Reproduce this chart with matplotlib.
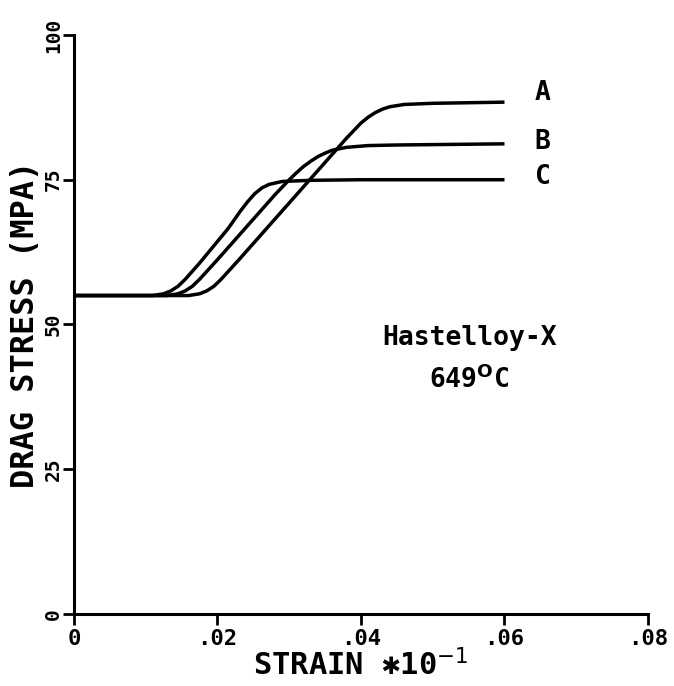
import numpy as np
import matplotlib.pyplot as plt

# curve data (strain x10^-1, drag stress MPa)
strain_a = [0.0, 0.016, 0.0175, 0.0185, 0.0195, 0.0205, 0.023, 0.026, 0.029, 0.032, 0.034,
            0.036, 0.038, 0.040, 0.041, 0.042, 0.043, 0.044, 0.046, 0.050, 0.060]
stress_a = [55.0, 55.0, 55.3, 55.8, 56.6, 57.8, 61.2, 65.4, 69.6, 73.8, 76.6,
            79.4, 82.2, 84.8, 85.8, 86.6, 87.2, 87.6, 88.0, 88.2, 88.4]

strain_b = [0.0, 0.013, 0.0145, 0.0155, 0.0165, 0.0175, 0.020, 0.023, 0.026, 0.028, 0.030,
            0.031, 0.032, 0.033, 0.034, 0.035, 0.036, 0.038, 0.041, 0.045, 0.060]
stress_b = [55.0, 55.0, 55.3, 55.8, 56.6, 57.8, 61.2, 65.4, 69.6, 72.4, 75.0,
            76.2, 77.3, 78.2, 79.0, 79.6, 80.1, 80.6, 80.9, 81.0, 81.2]

strain_c = [0.0, 0.011, 0.0125, 0.0135, 0.0145, 0.0155, 0.0175, 0.0195, 0.0215, 0.0232,
            0.0242, 0.0252, 0.0262, 0.0272, 0.029, 0.033, 0.040, 0.060]
stress_c = [55.0, 55.0, 55.3, 55.8, 56.6, 57.8, 60.6, 63.6, 66.6, 69.6,
            71.2, 72.6, 73.6, 74.2, 74.7, 74.9, 75.0, 75.0]

curve_names = ["A", "B", "C"]
name_y = [90.0, 81.5, 75.5]

xticks = [0, 0.02, 0.04, 0.06, 0.08]
xlabels = ["0", ".02", ".04", ".06", ".08"]
yticks = [0, 25, 50, 75, 100]
ylabels = ["0", "25", "50", "75", "100"]

mono = ["DejaVu Sans Mono", "DejaVu Sans"]

fig = plt.figure(figsize=(6.74, 6.86), dpi=100)
ax = fig.add_axes([0.1098, 0.105, 0.8516, 0.844])

for xs, ys in [(strain_a, stress_a), (strain_b, stress_b), (strain_c, stress_c)]:
    ax.plot(xs, ys, color="black", lw=2.5, solid_capstyle="butt",
            solid_joinstyle="round", clip_on=False)

# labels at the right end of each curve
for xs, ny, name in zip([strain_a, strain_b, strain_c], name_y, curve_names):
    ax.text(xs[-1] + 0.0042, ny, name, fontsize=19, fontweight="bold",
            family=mono, ha="left", va="center")

ax.set_xlim(0, 0.08)
ax.set_ylim(0, 100)
ax.spines["top"].set_visible(False)
ax.spines["right"].set_visible(False)
ax.spines["left"].set_linewidth(2.2)
ax.spines["bottom"].set_linewidth(2.2)

ax.set_xticks(xticks)
ax.set_xticklabels(xlabels, fontsize=16, fontweight="bold", family=mono)
ax.set_yticks(yticks)
ax.set_yticklabels(ylabels, fontsize=14, fontweight="bold", family=mono,
                   rotation=90, va="center")
ax.tick_params(axis="both", direction="out", length=8, width=2.0)
ax.tick_params(axis="y", pad=0)
ax.tick_params(axis="x", pad=3)

ax.set_xlabel("STRAIN \u2731" + "10$^{-1}$", fontsize=22, fontweight="bold",
              family=mono, labelpad=0)
ax.set_ylabel("DRAG STRESS (MPA)", fontsize=23, fontweight="bold",
              family=mono, labelpad=2)

ax.text(0.0551, 47.7, "Hastelloy-X", fontsize=19, fontweight="bold",
        family=mono, ha="center", va="center")
ax.text(0.0551, 40.4, "649$^{\\mathbf{O}}$C", fontsize=19, fontweight="bold",
        family=mono, ha="center", va="center")

fig.savefig("out.png", dpi=100)
